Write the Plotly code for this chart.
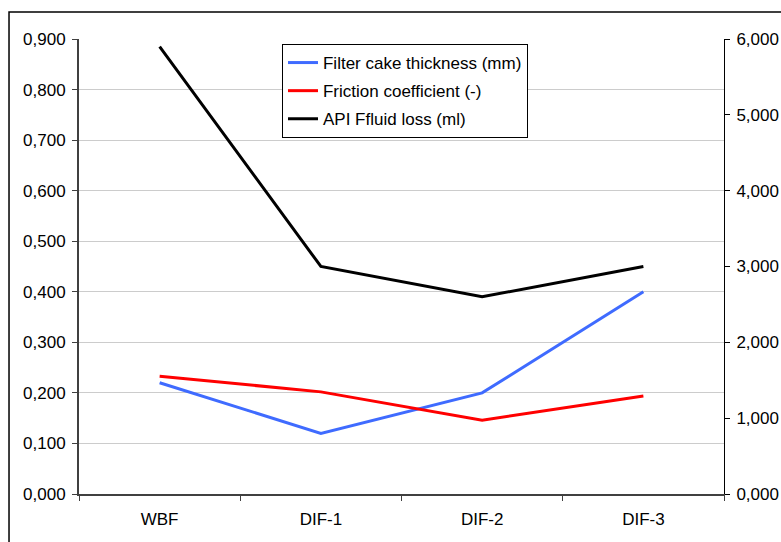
import plotly.graph_objects as go

# Drilling-fluid comparison data
categories = ["WBF", "DIF-1", "DIF-2", "DIF-3"]
filter_cake_mm = [0.220, 0.120, 0.200, 0.400]
friction_coef = [0.233, 0.202, 0.146, 0.194]
api_fluid_loss = [5.9, 3.0, 2.6, 3.0]

left_ticks = [i / 10 for i in range(10)]
right_ticks = list(range(7))

FONT = "Liberation Sans, Arial, sans-serif"
FS = 17

fig = go.Figure()
fig.add_trace(go.Scatter(
    x=categories, y=filter_cake_mm, mode="lines",
    name="Filter cake thickness (mm)", legendgroup="a",
    line=dict(color="#3f6bff", width=3), yaxis="y"))
fig.add_trace(go.Scatter(
    x=categories, y=friction_coef, mode="lines",
    name="Friction coefficient (-)", legendgroup="b",
    line=dict(color="#ff0000", width=3), yaxis="y"))
fig.add_trace(go.Scatter(
    x=categories, y=api_fluid_loss, mode="lines",
    name="API Ffluid loss (ml)", legendgroup="c",
    line=dict(color="#000000", width=3), yaxis="y2"))

fig.update_layout(
    width=781, height=542,
    margin=dict(l=79, r=57, t=39, b=48),
    paper_bgcolor="white", plot_bgcolor="white",
    separators=",.",
    font=dict(family=FONT, size=FS, color="black"),
    showlegend=True,
    legend=dict(
        x=0.3147, y=0.9890, xanchor="left", yanchor="top",
        bordercolor="black", borderwidth=1, bgcolor="white",
        font=dict(family=FONT, size=FS, color="black"),
        tracegroupgap=3, itemwidth=30),
    xaxis=dict(
        type="category", range=[-0.5, 3.5], tickson="boundaries",
        ticks="outside", ticklen=5, tickcolor="#404040",
        showline=True, linecolor="#404040", linewidth=2,
        showgrid=False, zeroline=False, ticklabelstandoff=9,
        automargin=False, tickfont=dict(family=FONT, size=FS)),
    yaxis=dict(
        range=[0, 0.9], tickvals=left_ticks, tickformat=".3f",
        ticks="outside", ticklen=5, tickcolor="#404040",
        showline=True, linecolor="#404040", linewidth=2,
        showgrid=True, gridcolor="#cccccc", gridwidth=1,
        zeroline=False, ticklabelstandoff=3, automargin=False,
        tickfont=dict(family=FONT, size=FS)),
    yaxis2=dict(
        range=[0, 6], tickvals=right_ticks, tickformat=".3f",
        overlaying="y", side="right", anchor="x",
        ticks="outside", ticklen=5, tickcolor="black",
        showline=True, linecolor="black", linewidth=1,
        showgrid=False, zeroline=False, ticklabelstandoff=3,
        automargin=False, tickfont=dict(family=FONT, size=FS)),
    # inward half of the cross-style tick marks on the right axis
    yaxis3=dict(
        range=[0, 6], tickvals=right_ticks, showticklabels=False,
        overlaying="y", side="right", anchor="x",
        ticks="inside", ticklen=5, tickcolor="black",
        showline=False, showgrid=False, zeroline=False,
        automargin=False),
)

# chart frame
fig.add_shape(type="rect", xref="paper", yref="paper",
              x0=-0.1085, x1=1.2, y0=-0.2, y1=1.0593,
              line=dict(color="black", width=1.5), layer="below")

fig.write_html("out.html")
